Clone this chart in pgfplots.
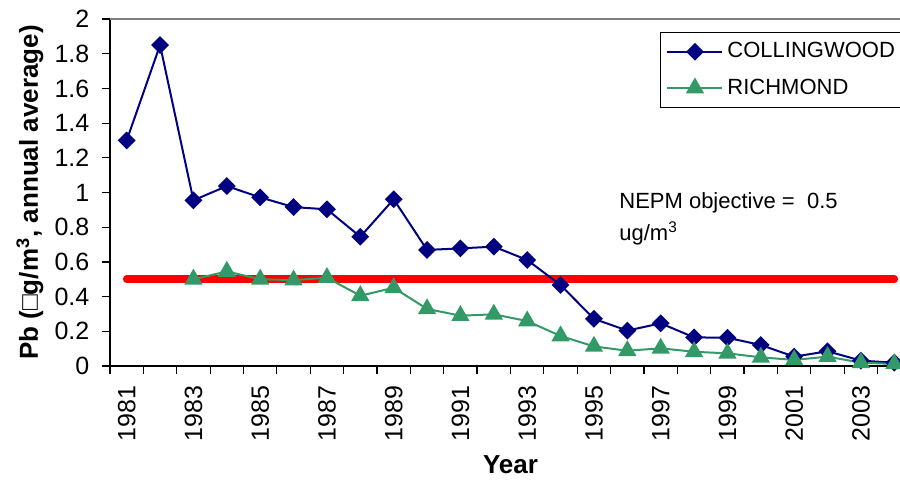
\documentclass[border=0pt]{standalone}
\usepackage{fontspec}
\setmainfont{Liberation Sans}
\usepackage{pgfplots}
\pgfplotsset{compat=1.18}
\definecolor{cnavy}{HTML}{000080}
\definecolor{cgreen}{HTML}{339966}
\begin{document}
\begin{tikzpicture}
\path[use as bounding box] (0,0) rectangle (450pt,239.5pt);
\begin{axis}[
  at={(55pt,56.5pt)}, anchor=south west,
  scale only axis, width=400.5pt, height=173.5pt,
  xmin=1980.5, xmax=2004.5, ymin=0, ymax=2,
  axis x line*=bottom, axis y line*=left,
  axis line style={black, line width=0.8pt},
  clip=false,
  xtick={1981,1983,...,2003},
  minor xtick={1980.5,1981.5,...,2004.5},
  major x tick style={draw=none},
  minor tick length=4pt,
  ytick={0,0.2,...,2.01},
  major tick length=4pt,
  tick align=outside,
  tick style={black, line width=0.6pt},
  /pgf/number format/assume math mode=true,
  yticklabel={\pgfmathprintnumber[fixed, precision=1]{\tick}},
  xticklabel={\pgfmathprintnumber[fixed, precision=0, 1000 sep={}]{\tick}},
  tick label style={font=\fontsize{12.5}{14}\selectfont},
  xticklabel style={rotate=90, anchor=east, xshift=-2.3pt},
  yticklabel style={xshift=-2.8pt},
  xlabel={Year},
  ylabel={Pb (□g/m\textsuperscript{3}, annual average)},
  every axis x label/.style={at={(rel axis cs:0.5,0)}, anchor=center, yshift=-49.5pt, font=\bfseries\fontsize{13}{15}\selectfont},
  every axis y label/.style={at={(rel axis cs:0,0.5)}, anchor=center, rotate=90, yshift=40pt, font=\bfseries\fontsize{13}{15}\selectfont},
  legend style={at={(rel axis cs:0.6866,0.9625)}, anchor=north west, draw=black, line width=0.5pt,
    font=\fontsize{11}{13}\selectfont, row sep=5pt, inner sep=3pt},
  legend cell align=left,
  legend image code/.code={\draw[mark repeat=2,mark phase=2] plot coordinates {(0pt,0pt) (13.75pt,0pt) (27.5pt,0pt)};},
]
\draw[gray, line width=1pt] (rel axis cs:0,1) -- (rel axis cs:1,1);
\addplot[red, line width=3.8pt, line cap=round, forget plot] coordinates {(1981,0.5) (2004,0.5)};
\addplot[cnavy, line width=1pt, mark=square*, mark size=2.65pt, mark options={rotate=45, fill=cnavy, draw=cnavy}] coordinates {
(1981,1.30) (1982,1.85) (1983,0.955) (1984,1.037) (1985,0.972) (1986,0.916) (1987,0.903) (1988,0.745)
(1989,0.961) (1990,0.669) (1991,0.678) (1992,0.688) (1993,0.611) (1994,0.467) (1995,0.272) (1996,0.204)
(1997,0.246) (1998,0.165) (1999,0.163) (2000,0.121) (2001,0.054) (2002,0.085) (2003,0.031) (2004,0.019)};
\addlegendentry{COLLINGWOOD}
\addplot[cgreen, line width=1pt, mark=triangle*, mark size=4.3pt, mark options={fill=cgreen, draw=cgreen}] coordinates {
(1983,0.50) (1984,0.545) (1985,0.50) (1986,0.495) (1987,0.509) (1988,0.405) (1989,0.451) (1990,0.329)
(1991,0.29) (1992,0.298) (1993,0.259) (1994,0.173) (1995,0.113) (1996,0.088) (1997,0.102) (1998,0.082)
(1999,0.073) (2000,0.05) (2001,0.035) (2002,0.054) (2003,0.019) (2004,0.012)};
\addlegendentry{RICHMOND}
\node[anchor=base west, inner sep=0pt, font=\fontsize{11}{13}\selectfont] at (axis cs:1995.75,0.905) {NEPM objective =\ \ 0.5};
\node[anchor=base west, inner sep=0pt, font=\fontsize{11}{13}\selectfont] at (axis cs:1995.75,0.726) {ug/m\textsuperscript{3}};
\end{axis}
\end{tikzpicture}
\end{document}
